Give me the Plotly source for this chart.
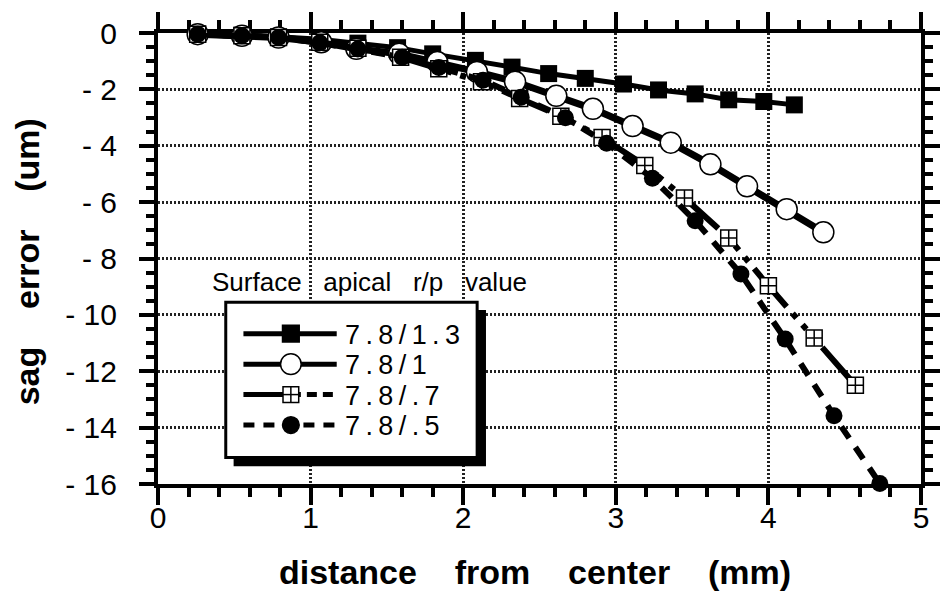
import plotly.graph_objects as go

# ---------------- data ----------------
series_names = ["7.8/1.3", "7.8/1", "7.8/.7", "7.8/.5"]

x_13 = [0.26, 0.55, 0.79, 1.06, 1.31, 1.57, 1.80, 2.08, 2.32, 2.56, 2.80, 3.05, 3.28, 3.52, 3.74, 3.97, 4.17]
y_13 = [-0.03, -0.07, -0.13, -0.22, -0.36, -0.52, -0.74, -0.97, -1.21, -1.44, -1.61, -1.81, -2.02, -2.16, -2.37, -2.43, -2.55]

x_10 = [0.26, 0.55, 0.79, 1.07, 1.30, 1.58, 1.83, 2.09, 2.34, 2.61, 2.85, 3.11, 3.36, 3.62, 3.86, 4.12, 4.36]
y_10 = [-0.04, -0.10, -0.16, -0.33, -0.56, -0.74, -1.03, -1.38, -1.73, -2.23, -2.69, -3.30, -3.89, -4.66, -5.44, -6.25, -7.07]

x_07 = [0.26, 0.55, 0.79, 1.06, 1.31, 1.59, 1.84, 2.12, 2.37, 2.64, 2.91, 3.19, 3.45, 3.74, 4.00, 4.30, 4.57]
y_07 = [-0.04, -0.10, -0.16, -0.33, -0.54, -0.86, -1.27, -1.73, -2.32, -2.95, -3.71, -4.70, -5.85, -7.27, -8.97, -10.82, -12.50]

x_05 = [0.26, 0.55, 0.79, 1.06, 1.31, 1.60, 1.84, 2.13, 2.38, 2.67, 2.94, 3.24, 3.52, 3.82, 4.11, 4.43, 4.73]
y_05 = [-0.04, -0.10, -0.16, -0.35, -0.57, -0.86, -1.22, -1.68, -2.28, -3.01, -3.91, -5.15, -6.66, -8.55, -10.86, -13.58, -15.98]

x_ticks = [0, 1, 2, 3, 4, 5]
x_ticklabels = ["0", "1", "2", "3", "4", "5"]
y_ticks = [0, -2, -4, -6, -8, -10, -12, -14, -16]
y_ticklabels = ["0", "- 2", "- 4", "- 6", "- 8", "- 10", "- 12", "- 14", "- 16"]

legend_title = "Surface\u00a0\u00a0\u00a0apical\u00a0\u00a0\u00a0r/p\u00a0\u00a0\u00a0value"
x_title = "distance\u00a0\u00a0\u00a0\u00a0from\u00a0\u00a0\u00a0\u00a0center\u00a0\u00a0\u00a0\u00a0(mm)"
y_title = "sag\u00a0\u00a0\u00a0\u00a0error\u00a0\u00a0\u00a0\u00a0(um)"

# ---------------- layout geometry (pixels) ----------------
W, H = 952, 591
L, R, T, B = 158, 17, 25, 107
PW = W - L - R
PH = H - T - B
FONT = "Liberation Sans, Arial, Helvetica, sans-serif"


def px(xp):
    return (xp - L) / PW


def py(yp):
    return (H - B - yp) / PH


styles = [
    dict(line=dict(color="black", width=5),
         marker=dict(symbol="square", size=17, color="black", line=dict(width=0))),
    dict(line=dict(color="black", width=7),
         marker=dict(symbol="circle", size=21, color="white", line=dict(color="black", width=1.5))),
    dict(line=dict(color="black", width=6, dash="50px,9px,6px,9px,6px,9px,6px,9px"),
         marker=dict(symbol="square-cross", size=16, color="white", line=dict(color="black", width=1.5))),
    dict(line=dict(color="black", width=6, dash="14px,11px"),
         marker=dict(symbol="circle", size=17, color="black", line=dict(width=0))),
]

fig = go.Figure()
for name, xs, ys, st in zip(series_names, [x_13, x_10, x_07, x_05], [y_13, y_10, y_07, y_05], styles):
    fig.add_trace(go.Scatter(x=xs, y=ys, name=name, mode="lines+markers",
                             line=st["line"], marker=st["marker"],
                             cliponaxis=False, showlegend=False))

axis_common = dict(
    showline=True, linecolor="black", linewidth=4, mirror="allticks",
    ticks="outside", tickcolor="black", tickwidth=4,
    showgrid=True, gridcolor="#222222", gridwidth=2.5, griddash="2px,2px",
    zeroline=False, layer="below traces",
    tickfont=dict(family=FONT, size=30, color="black"),
)

fig.update_xaxes(range=[0, 5], tickvals=x_ticks, ticktext=x_ticklabels, ticklen=17,
                 ticklabelstandoff=-13,
                 minor=dict(dtick=0.2, ticklen=9, tickwidth=4, tickcolor="black", ticks="outside", showgrid=False),
                 **axis_common)
fig.update_yaxes(range=[-16, 0], tickvals=y_ticks, ticktext=y_ticklabels, ticklen=15,
                 ticklabelstandoff=16,
                 minor=dict(dtick=0.5, ticklen=8, tickwidth=4, tickcolor="black", ticks="outside", showgrid=False),
                 **axis_common)

# ---------------- hand-made legend (decoration) ----------------
shapes = []
annotations = []
shapes.append(dict(type="rect", xref="paper", yref="paper", x0=px(235), x1=px(492), y0=py(466), y1=py(307),
                   fillcolor="black", line=dict(width=0), layer="above"))
shapes.append(dict(type="rect", xref="paper", yref="paper", x0=px(227), x1=px(483), y0=py(457), y1=py(299),
                   fillcolor="white", line=dict(color="black", width=3), layer="above"))

row_y = [331, 362, 393, 424]
lx0, lx1, mx = 245, 340, 293.3
for i, (name, st, ry) in enumerate(zip(series_names, styles, row_y)):
    if i == 2:
        shapes.append(dict(type="line", xref="paper", yref="paper", x0=px(lx0), x1=px(mx), y0=py(ry), y1=py(ry),
                           line=dict(color="black", width=5), layer="above"))
        shapes.append(dict(type="line", xref="paper", yref="paper", x0=px(mx), x1=px(lx1), y0=py(ry), y1=py(ry),
                           line=dict(color="black", width=5, dash="10px,6px"), layer="above"))
    elif i == 3:
        shapes.append(dict(type="line", xref="paper", yref="paper", x0=px(lx0), x1=px(lx1), y0=py(ry), y1=py(ry),
                           line=dict(color="black", width=5, dash="11px,9px"), layer="above"))
    else:
        shapes.append(dict(type="line", xref="paper", yref="paper", x0=px(lx0), x1=px(lx1), y0=py(ry), y1=py(ry),
                           line=dict(color="black", width=5), layer="above"))
    m = st["marker"]
    s = m["size"] / 2
    if m["symbol"].startswith("square"):
        shapes.append(dict(type="rect", xref="paper", yref="paper", x0=px(mx - s), x1=px(mx + s),
                           y0=py(ry + s), y1=py(ry - s), fillcolor=m["color"],
                           line=dict(color="black", width=1.5), layer="above"))
        if m["symbol"] == "square-cross":
            shapes.append(dict(type="line", xref="paper", yref="paper", x0=px(mx), x1=px(mx),
                               y0=py(ry + s), y1=py(ry - s), line=dict(color="black", width=1.5), layer="above"))
            shapes.append(dict(type="line", xref="paper", yref="paper", x0=px(mx - s), x1=px(mx + s),
                               y0=py(ry), y1=py(ry), line=dict(color="black", width=1.5), layer="above"))
    else:
        shapes.append(dict(type="circle", xref="paper", yref="paper", x0=px(mx - s), x1=px(mx + s),
                           y0=py(ry + s), y1=py(ry - s), fillcolor=m["color"],
                           line=dict(color="black", width=1.5), layer="above"))
    spaced = "\u2009".join(list(name))
    annotations.append(dict(xref="paper", yref="paper", x=px(346), y=py(ry + 1), xanchor="left", yanchor="middle",
                            text=spaced, showarrow=False,
                            font=dict(family=FONT, size=27, color="black")))

annotations.append(dict(xref="paper", yref="paper", x=px(211), y=py(278), xanchor="left", yanchor="middle",
                        text=legend_title, showarrow=False, font=dict(family=FONT, size=26, color="black")))

# axis titles
annotations.append(dict(xref="paper", yref="paper", x=px(542), y=py(574), xanchor="center", yanchor="middle",
                        text=x_title, showarrow=False,
                        font=dict(family=FONT, size=34, color="black", weight="bold")))
annotations.append(dict(xref="paper", yref="paper", x=px(25), y=py(258), xanchor="center", yanchor="middle",
                        text=y_title, textangle=-90, showarrow=False,
                        font=dict(family=FONT, size=34, color="black", weight="bold")))

fig.update_layout(
    width=W, height=H,
    margin=dict(l=L, r=R, t=T, b=B, pad=0),
    paper_bgcolor="white", plot_bgcolor="white",
    showlegend=False,
    shapes=shapes, annotations=annotations,
    font=dict(family=FONT, color="black"),
)

fig.write_html("out.html")
